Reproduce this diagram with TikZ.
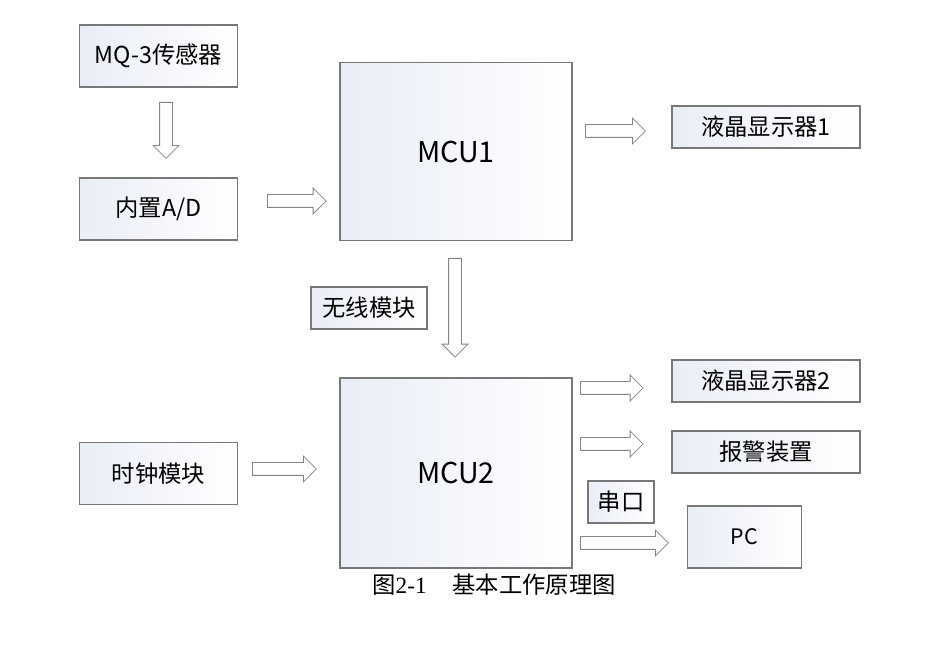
\documentclass[tikz,border=0pt]{standalone}
\usepackage{fontspec}
\newfontfamily\cjk{Noto Sans CJK SC}
\newfontfamily\capfont{Liberation Serif}
\usetikzlibrary{shapes.arrows}
\definecolor{BordGris}{RGB}{120,120,120}
\definecolor{FondBleu}{RGB}{233,237,246}
\tikzset{bloc/.style={rectangle, draw=BordGris, line width=0.8pt,
  left color=FondBleu, right color=white, font=\cjk\fontsize{17.5}{19}\selectfont,
  inner sep=0pt}}
\tikzset{mcu/.style={bloc, minimum width=174pt, font=\cjk\fontsize{21.5}{23}\selectfont}}
\tikzset{fleche/.style={single arrow, draw=BordGris!90, line width=0.6pt, fill=white,
  inner xsep=0pt, inner ysep=4.5pt, single arrow head extend=4.9pt, anchor=tail}}
\begin{document}
\begin{tikzpicture}[x=0.75pt, y=-0.75pt]
\useasboundingbox (0,0) rectangle (926,659);
% blocs de gauche
\node[bloc, minimum width=119pt, minimum height=46.5pt] (mq) at (158.5,56) {MQ-3传感器};
\node[bloc, minimum width=119pt, minimum height=46.5pt] (ad) at (158.5,209) {内置A/D};
\node[bloc, minimum width=119pt, minimum height=47pt] (horl) at (158.5,473.5) {时钟模块};
% microcontroleurs
\node[mcu, minimum height=133pt] (mcu1) at (456,151.5) {MCU1};
\node[mcu, minimum height=142.5pt] (mcu2) at (456,473) {MCU2};
\node[bloc, minimum width=87pt, minimum height=31.5pt] (sansfil) at (369,308) {无线模块};
% sorties
\node[bloc, minimum width=141pt, minimum height=31.5pt] (lcd1) at (766,127) {液晶显示器1};
\node[bloc, minimum width=141pt, minimum height=31.5pt] (lcd2) at (766,381) {液晶显示器2};
\node[bloc, minimum width=141pt, minimum height=31.5pt] (alarme) at (766,452) {报警装置};
\node[bloc, minimum width=49.5pt, minimum height=31.5pt] (serie) at (621,502) {串口};
\node[bloc, minimum width=86pt, minimum height=46.5pt, font=\cjk\fontsize{16}{18}\selectfont] (pc) at (744.5,537) {PC};
% fleches creuses
\node[fleche, rotate=-90, minimum height=42pt] (f1) at (166,102) {};
\node[fleche, minimum height=44pt] (f2) at (267,201) {};
\node[fleche, rotate=-90, minimum height=74pt] (f3) at (455,258) {};
\node[fleche, minimum height=45pt] (f4) at (585,131) {};
\node[fleche, minimum height=47pt] (f5) at (580,388) {};
\node[fleche, minimum height=47pt] (f6) at (580,444) {};
\node[fleche, minimum height=66pt] (f7) at (580,543) {};
\node[fleche, minimum height=48pt] (f8) at (252,469) {};
% legende
\node[font=\fontsize{17.5}{19}\selectfont] (legende) at (494,585)
  {{\cjk 图}{\capfont 2-1}\hspace{1.1em}{\cjk 基本工作原理图}};
\end{tikzpicture}
\end{document}
